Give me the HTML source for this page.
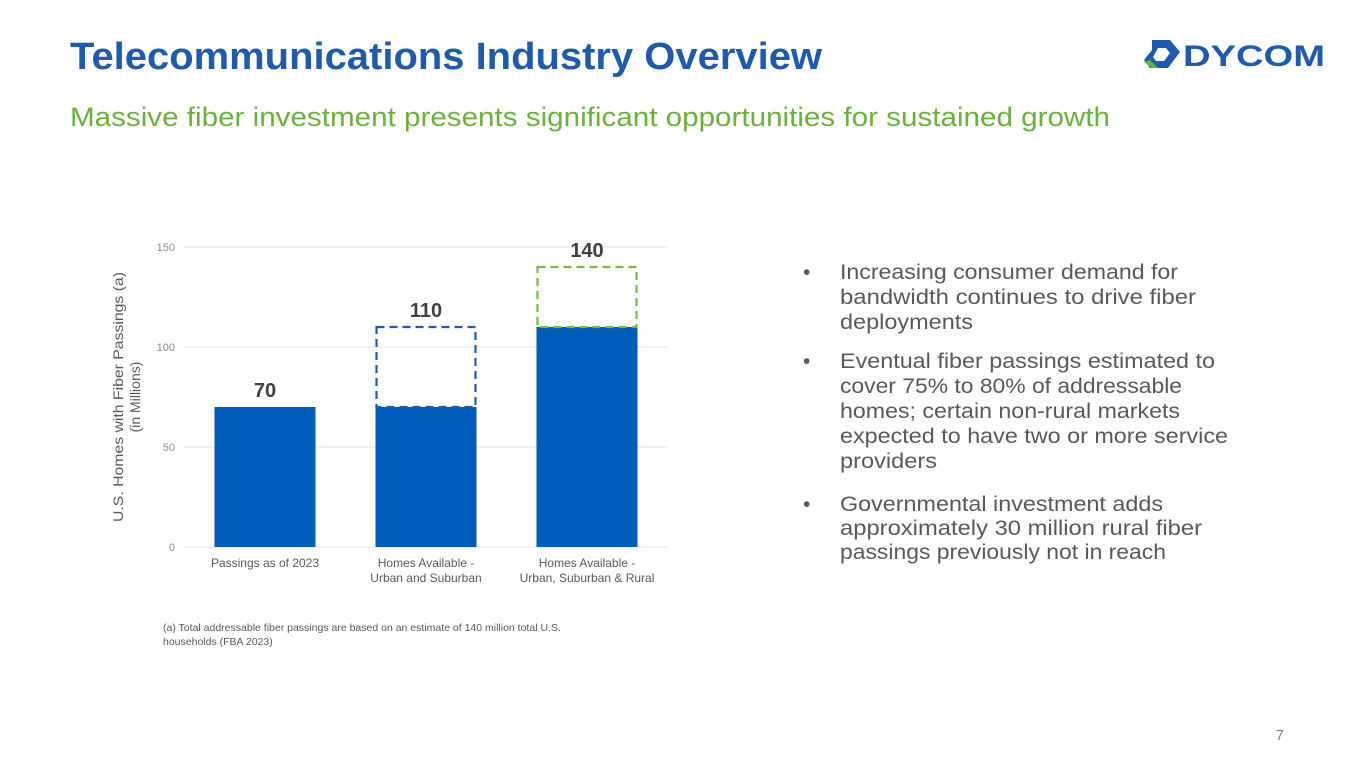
<!DOCTYPE html>
<html><head><meta charset="utf-8"><style>
html,body{margin:0;padding:0;background:#fff;}
svg{display:block;font-family:"Liberation Sans",sans-serif;}
</style></head><body>
<svg id="s" width="1365" height="766" viewBox="0 0 1365 766">
<text x="70" y="69" font-size="38" font-weight="bold" fill="#1f5aae" textLength="752" lengthAdjust="spacingAndGlyphs">Telecommunications Industry Overview</text>
<text x="70" y="126" font-size="27" fill="#6ab23e" textLength="1040" lengthAdjust="spacingAndGlyphs">Massive fiber investment presents significant opportunities for sustained growth</text>
<g>
<path d="M1152 40 L1170 40 L1180 52 L1168 68 L1150 68 L1144 60 L1152 50 Z" fill="#1f5aae"/>
<path d="M1158 48 L1166 48 L1170 53 L1164 61 L1156 61 L1153 57 Z" fill="#fff"/>
<path d="M1144 62 L1152 68 L1158 68 L1150 60 Z" fill="#6ab23e"/>
<text x="1183" y="66" font-size="30" font-weight="bold" fill="#1f5aae" textLength="142" lengthAdjust="spacingAndGlyphs">DYCOM</text>
</g>
<g id="chart"></g>
<text transform="translate(128,397) rotate(-90)" text-anchor="middle" font-size="14" fill="#595959"><tspan x="0" dy="-5" textLength="250" lengthAdjust="spacingAndGlyphs">U.S. Homes with Fiber Passings (a)</tspan><tspan x="0" dy="17">(in Millions)</tspan></text>
<text font-size="10.5" fill="#595959"><tspan x="163" y="631">(a) Total addressable fiber passings are based on an estimate of 140 million total U.S.</tspan><tspan x="163" y="645">households (FBA 2023)</tspan></text>
<g font-size="21" fill="#595959">
<text x="803" y="279">•</text>
<text x="840" y="279" textLength="338" lengthAdjust="spacingAndGlyphs">Increasing consumer demand for</text>
<text x="840" y="304" textLength="356" lengthAdjust="spacingAndGlyphs">bandwidth continues to drive fiber</text>
<text x="840" y="329" textLength="133" lengthAdjust="spacingAndGlyphs">deployments</text>
<text x="803" y="368">•</text>
<text x="840" y="368" textLength="375" lengthAdjust="spacingAndGlyphs">Eventual fiber passings estimated to</text>
<text x="840" y="393" textLength="342" lengthAdjust="spacingAndGlyphs">cover 75% to 80% of addressable</text>
<text x="840" y="418" textLength="340" lengthAdjust="spacingAndGlyphs">homes; certain non-rural markets</text>
<text x="840" y="443" textLength="388" lengthAdjust="spacingAndGlyphs">expected to have two or more service</text>
<text x="840" y="468" textLength="97" lengthAdjust="spacingAndGlyphs">providers</text>
<text x="803" y="511">•</text>
<text x="840" y="511" textLength="323" lengthAdjust="spacingAndGlyphs">Governmental investment adds</text>
<text x="840" y="535" textLength="362" lengthAdjust="spacingAndGlyphs">approximately 30 million rural fiber</text>
<text x="840" y="559" textLength="326" lengthAdjust="spacingAndGlyphs">passings previously not in reach</text>
</g>
<text x="1284" y="740" font-size="15" fill="#7f7f7f" text-anchor="end">7</text>
</svg>
<script>
const categories=[["Passings as of 2023"],["Homes Available -","Urban and Suburban"],["Homes Available -","Urban, Suburban & Rural"]];
const baseValues=[70,70,110];
const totalValues=[70,110,140];
const dashColors=["none","#1f5aae","#7ab93a"];
const yTicks=[0,50,100,150];
const NS="http://www.w3.org/2000/svg";
const g=document.getElementById('chart');
const x0=184,x1=667,yBase=547,yTop=247,yMax=150;
const y=v=>yBase-(v/yMax)*(yBase-yTop);
const step=161;
const bw=101;
const cx=i=>x0+81+step*i;
function mk(t,a){const e=document.createElementNS(NS,t);for(const k in a)e.setAttribute(k,a[k]);g.appendChild(e);return e;}
yTicks.forEach(t=>{
const l=mk('line',{x1:x0,x2:x1,y1:y(t),y2:y(t),stroke:'#e3e3e3','stroke-width':1});


const tx=mk('text',{x:175,y:y(t)+4,'text-anchor':'end','font-size':11,fill:'#8c8c8c'});
tx.textContent=t;


});
categories.forEach((c,i)=>{
const c0=cx(i);
const b=mk('rect',{x:c0-bw/2,y:y(baseValues[i]),width:bw,height:y(0)-y(baseValues[i]),fill:'#005cb9'});


if(totalValues[i]>baseValues[i]){
const d=mk('rect',{x:c0-bw/2+1,y:y(totalValues[i]),width:bw-2,height:y(baseValues[i])-y(totalValues[i]),fill:'none',stroke:dashColors[i],'stroke-width':2.2,'stroke-dasharray':'8,5'});


}
const v=mk('text',{x:c0,y:y(totalValues[i])-10,'text-anchor':'middle','font-size':20,'font-weight':'bold',fill:'#404040'});
v.textContent=totalValues[i];


const lt=mk('text',{'text-anchor':'middle','font-size':12,fill:'#595959'});


c.forEach((s,k)=>{const ts=document.createElementNS(NS,'tspan');ts.setAttribute('x',c0);ts.setAttribute('y',567+k*15);ts.textContent=s;lt.appendChild(ts);});
});
</script>
</body></html>
